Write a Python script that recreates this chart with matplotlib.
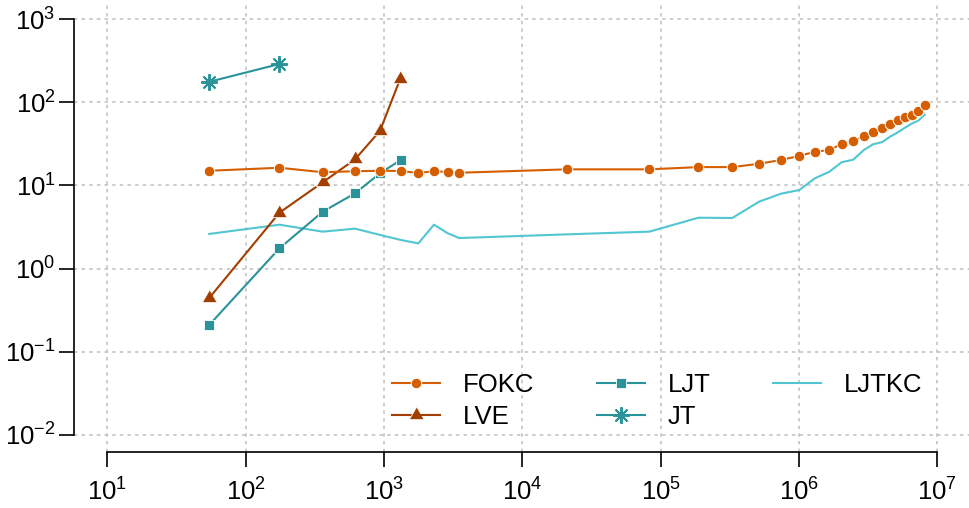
import matplotlib
matplotlib.use("Agg")
import matplotlib.pyplot as plt
import numpy as np

plt.rcParams['font.family'] = ['Liberation Sans', 'DejaVu Sans']
plt.rcParams['mathtext.fontset'] = 'custom'
plt.rcParams['mathtext.rm'] = 'Liberation Sans'
plt.rcParams['mathtext.it'] = 'Liberation Sans:italic'

# ---- data ----
fokc_x = [54.4, 175, 360, 617, 934, 1318, 1767, 2295, 2884, 3499, 21040, 82800,
          187200, 329600, 514000, 738000, 1.005e6, 1.306e6, 1.656e6, 2.036e6,
          2.47e6, 2.94e6, 3.43e6, 4.0e6, 4.55e6, 5.17e6, 5.84e6, 6.57e6, 7.29e6, 8.11e6]
fokc_y = [15.0, 16.3, 14.4, 14.8, 15.0, 14.9, 14.1, 14.8, 14.5, 14.2, 15.6, 15.6,
          16.6, 16.6, 18.2, 20.2, 22.6, 25.4, 26.6, 31.5,
          34.2, 38.9, 43.8, 49.4, 54.7, 60.6, 65.9, 70.8, 79.1, 91.8]
ljtkc_y = [2.61, 3.37, 2.78, 3.02, 2.54, 2.21, 2.01, 3.37, 2.66, 2.33, 2.58, 2.78,
           4.09, 4.06, 6.37, 7.94, 8.80, 12.2, 14.6, 19.0,
           20.4, 26.6, 31.2, 33.2, 38.5, 43.4, 49.4, 55.7, 60.0, 70.8]
lve_x = [54.4, 175, 360, 617, 934, 1303]
lve_y = [0.443, 4.70, 10.9, 20.6, 45.4, 188]
ljt_x = [54.4, 175, 360, 617, 934, 1318]
ljt_y = [0.21, 1.75, 4.83, 8.04, 14.0, 20.2]
jt_x = [54.4, 175]
jt_y = [176, 288]

x_ticks = [1e1, 1e2, 1e3, 1e4, 1e5, 1e6, 1e7]
x_labels = [r'$10^{1}$', r'$10^{2}$', r'$10^{3}$', r'$10^{4}$', r'$10^{5}$', r'$10^{6}$', r'$10^{7}$']
y_ticks = [1e-2, 1e-1, 1e0, 1e1, 1e2, 1e3]
y_labels = [r'$10^{-2}$', r'$10^{-1}$', r'$10^{0}$', r'$10^{1}$', r'$10^{2}$', r'$10^{3}$']

c_fokc = '#D55E00'
c_lve = '#A23F00'
c_ljt = '#2A939A'
c_ljtkc = '#52C6D0'

W, H = 969, 508
fig = plt.figure(figsize=(W/100, H/100), dpi=100)
left, right, top, bottom = 74.3, 970.5, 2.4, 451.6
ax = fig.add_axes([left/W, 1 - bottom/H, (right-left)/W, (bottom-top)/H])
ax.set_xscale('log')
ax.set_yscale('log')
ax.set_xlim(10**0.76, 10**7.24)
ax.set_ylim(10**-2.2, 10**3.2)

grid_kw = dict(color='#BEBEBE', lw=1.1, ls=(0, (2.2, 2.8)), zorder=0)
for xv in x_ticks:
    ax.axvline(xv, **grid_kw)
for yv in y_ticks:
    ax.axhline(yv, **grid_kw)

tri = [(0, 1), (-0.866, -0.5), (0.866, -0.5)]
ax.plot(fokc_x, ljtkc_y, color=c_ljtkc, lw=1.5, label='LJTKC', zorder=2)
ax.plot(jt_x, jt_y, color=c_ljt, lw=1.5, marker=(8, 2, 0), ms=12, mew=1.4,
        label='JT', zorder=3)
ax.plot(ljt_x, ljt_y, color=c_ljt, lw=1.5, marker='s', ms=7.6, mec='white', mew=0.6,
        label='LJT', zorder=3)
ax.plot(lve_x, lve_y, color=c_lve, lw=1.5, marker=tri, ms=12, mec='white', mew=0.6,
        label='LVE', zorder=4)
ax.plot(fokc_x, fokc_y, color=c_fokc, lw=1.5, marker='o', ms=7.6, mec='white', mew=0.7,
        label='FOKC', zorder=5)

for s in ['top', 'right']:
    ax.spines[s].set_visible(False)
ax.spines['left'].set_bounds(1e-2, 1e3)
ax.spines['bottom'].set_bounds(1e1, 1e7)
for s in ['left', 'bottom']:
    ax.spines[s].set_linewidth(1.2)
ax.set_xticks(x_ticks)
ax.set_xticklabels(x_labels)
ax.set_yticks(y_ticks)
ax.set_yticklabels(y_labels)
ax.minorticks_off()
ax.tick_params(axis='both', direction='out', length=10.5, width=1.2, labelsize=18.5)
ax.tick_params(axis='x', pad=9)
ax.tick_params(axis='y', pad=3)

handles, labels = ax.get_legend_handles_labels()
hd = dict(zip(labels, handles))
order = ['FOKC', 'LVE', 'LJT', 'JT', 'LJTKC']
leg = ax.legend([hd[k] for k in order], order, ncol=3, frameon=False,
                fontsize=18.5, handlelength=1.85, handletextpad=0.9,
                columnspacing=2.45, labelspacing=0.3,
                loc='upper left', bbox_to_anchor=((392-left)/(right-left), 1-(373-top)/(bottom-top)),
                borderaxespad=0, borderpad=0)

fig.savefig('out.png', dpi=100)
